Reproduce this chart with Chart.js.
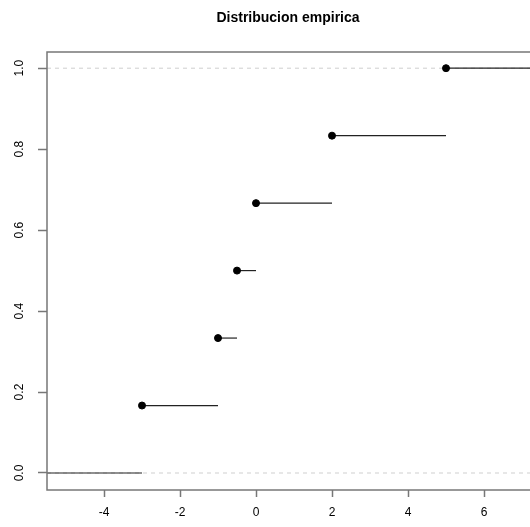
<!DOCTYPE html>
<html>
<head>
<meta charset="utf-8">
<script src="https://cdn.jsdelivr.net/npm/chart.js@4"></script>
<style>
  html, body { margin: 0; padding: 0; background: #fff; overflow: hidden; }
  #wrap { width: 530px; height: 527px; overflow: hidden; }
</style>
</head>
<body>
<div id="wrap"><canvas id="ecdfChart" width="550" height="527"></canvas></div>
<script>
// sample values (sorted) and their cumulative proportions
const sampleX = [-3, -1, -0.5, 0, 2, 5];
const cumProb = [1/6, 2/6, 3/6, 4/6, 5/6, 1];
const xTicks = [-4, -2, 0, 2, 4, 6];
const yTicks = [0.0, 0.2, 0.4, 0.6, 0.8, 1.0];
const yRange = [-0.042, 1.04];

const FONT = 'Liberation Sans, Arial, sans-serif';

// box, title and rotated y labels like base R graphics
const rStyle = {
    id: 'rStyle',
    afterDraw(chart) {
        const c = chart.ctx;
        const a = chart.chartArea;
        const ys = chart.scales.y;
        c.save();
        c.strokeStyle = '#777';
        c.lineWidth = 1.5;
        c.strokeRect(a.left, a.top, a.right - a.left + 20, a.bottom - a.top);

        c.fillStyle = '#000';
        c.font = 'bold 14px ' + FONT;
        c.textAlign = 'center';
        c.textBaseline = 'middle';
        c.fillText('Distribucion empirica', 288, 18);

        c.font = '12px ' + FONT;
        yTicks.forEach(v => {
            const py = ys.getPixelForValue(v);
            c.save();
            c.translate(20, py);
            c.rotate(-Math.PI / 2);
            c.fillText(v.toFixed(1), 0, 0);
            c.restore();
        });
        c.restore();
    }
};

// x range chosen so that -4 sits at 104px and 6 at 484px
const canvasW = 550;
const areaLeft = 47;
const pxPerUnit = 38;
const xMin = -4 - (104 - areaLeft) / pxPerUnit;
const xMax = 6 + (canvasW - 484) / pxPerUnit;

// horizontal step segments
const stepSets = [];
stepSets.push({ data: [{ x: xMin, y: 0 }, { x: sampleX[0], y: 0 }] });
for (let i = 0; i < sampleX.length; i++) {
    const xEnd = i < sampleX.length - 1 ? sampleX[i + 1] : xMax;
    stepSets.push({ data: [{ x: sampleX[i], y: cumProb[i] }, { x: xEnd, y: cumProb[i] }] });
}

const lineStyle = {
    type: 'line', showLine: true, borderColor: '#222', borderWidth: 1.2,
    pointRadius: 0, fill: false, order: 2
};

const datasets = [
    { type: 'line', data: [{ x: xMin, y: 0 }, { x: xMax, y: 0 }],
      borderColor: '#cfcfcf', borderDash: [4, 4], borderWidth: 1, pointRadius: 0, order: 3 },
    { type: 'line', data: [{ x: xMin, y: 1 }, { x: xMax, y: 1 }],
      borderColor: '#cfcfcf', borderDash: [4, 4], borderWidth: 1, pointRadius: 0, order: 3 },
    ...stepSets.map(s => Object.assign({}, lineStyle, s)),
    { type: 'scatter', data: sampleX.map((x, i) => ({ x: x, y: cumProb[i] })),
      backgroundColor: '#000', borderColor: '#000', pointRadius: 3.5, order: 1 }
];

new Chart(document.getElementById('ecdfChart'), {
    data: { datasets: datasets },
    options: {
        responsive: false,
        animation: false,
        layout: { padding: { top: 52, right: 0, left: 0, bottom: 0 } },
        plugins: { legend: { display: false }, tooltip: { enabled: false }, title: { display: false } },
        scales: {
            x: {
                type: 'linear', min: xMin, max: xMax,
                afterBuildTicks: s => { s.ticks = xTicks.map(v => ({ value: v })); },
                afterFit: s => { s.height = 37; s.paddingRight = 0; },
                grid: { drawOnChartArea: false, tickLength: 7, color: '#777', tickWidth: 1.5 },
                border: { display: false },
                ticks: { color: '#000', font: { size: 12, family: FONT }, padding: 8, maxRotation: 0,
                         callback: v => String(v) }
            },
            y: {
                type: 'linear', min: yRange[0], max: yRange[1],
                afterBuildTicks: s => { s.ticks = yTicks.map(v => ({ value: v })); },
                afterFit: s => { s.width = areaLeft; },
                grid: { drawOnChartArea: false, tickLength: 9, color: '#777', tickWidth: 1.5 },
                border: { display: false },
                ticks: { callback: () => '' }
            }
        }
    },
    plugins: [rStyle, {
        id: 'fixRange',
        afterLayout(chart) {
            // recompute range from the real chart area so tick spacing matches
            const a = chart.chartArea;
            const xs = chart.scales.x;
            const lo = -4 - (104 - a.left) / pxPerUnit;
            const hi = 6 + (a.right - 484) / pxPerUnit;
            if (Math.abs(xs.options.min - lo) > 1e-6 || Math.abs(xs.options.max - hi) > 1e-6) {
                xs.options.min = lo;
                xs.options.max = hi;
                chart.options.scales.x.min = lo;
                chart.options.scales.x.max = hi;
                datasets[0].data[1].x = hi;
                datasets[1].data[1].x = hi;
                stepSets[stepSets.length - 1].data[1].x = hi;
                chart.data.datasets[2 + stepSets.length - 1].data[1].x = hi;
                chart.data.datasets[0].data[0].x = lo;
                chart.data.datasets[1].data[0].x = lo;
                chart.data.datasets[2].data[0].x = lo;
                setTimeout(() => chart.update(), 0);
            }
        }
    }]
});
</script>
</body>
</html>
